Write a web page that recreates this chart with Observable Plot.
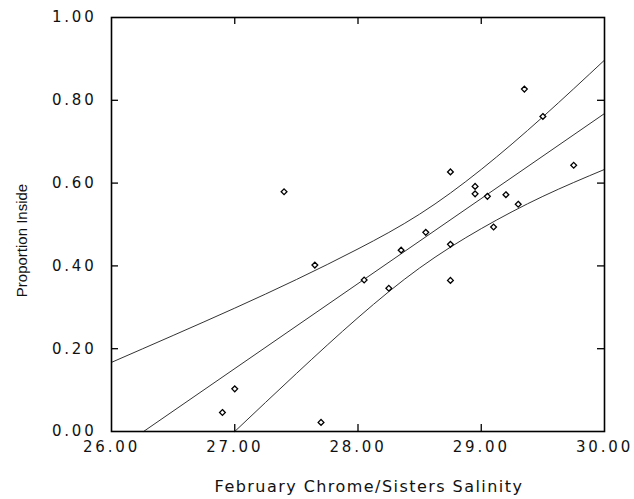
<!DOCTYPE html>
<html><head><meta charset="utf-8">
<script src="https://cdn.jsdelivr.net/npm/d3@7"></script>
<script src="https://cdn.jsdelivr.net/npm/@observablehq/plot@0.6"></script>
<style>
body{margin:0;background:#fff}
#chart svg{font-family:"DejaVu Sans",sans-serif;}
g[aria-label="x-axis tick label"] text, g[aria-label="y-axis tick label"] text{font-size:15px;letter-spacing:2.8px;fill:#111}
</style>
</head><body><div id="chart"></div>
<script>
// observed points
const salinity   = [26.90, 27.00, 27.40, 27.65, 27.70, 28.05, 28.25, 28.35, 28.55, 28.75, 28.75, 28.75, 28.95, 28.95, 29.05, 29.10, 29.20, 29.30, 29.35, 29.50, 29.75];
const proportion = [0.046, 0.103, 0.579, 0.402, 0.022, 0.366, 0.346, 0.438, 0.481, 0.627, 0.452, 0.365, 0.592, 0.574, 0.568, 0.494, 0.572, 0.549, 0.827, 0.761, 0.643];
// fitted line
const fitX = [26.26, 30.00];
const fitY = [0.000, 0.768];
// upper band
const upperX = [26.00, 26.50, 27.00, 27.50, 28.00, 28.50, 29.00, 29.50, 30.00];
const upperY = [0.167, 0.232, 0.298, 0.367, 0.441, 0.525, 0.633, 0.760, 0.897];
// lower band
const lowerX = [27.00, 27.50, 28.00, 28.50, 29.00, 29.50, 30.00];
const lowerY = [0.000, 0.140, 0.275, 0.395, 0.490, 0.568, 0.633];
// ticks and labels
const xTicks = [26, 27, 28, 29, 30];
const yTicks = [0, 0.2, 0.4, 0.6, 0.8, 1.0];
const xTitle = "February Chrome/Sisters Salinity";
const yTitle = "Proportion Inside";

const W = 634, H = 499, mL = 111, mR = 30, mT = 17, mB = 68;
const plotH = H - mT - mB, plotW = W - mL - mR, tick = 7;

const pts = salinity.map((x, i) => ({x, y: proportion[i]}));
const fit = fitX.map((x, i) => ({x, y: fitY[i]}));
const up = upperX.map((x, i) => ({x, y: upperY[i]}));
const lo = lowerX.map((x, i) => ({x, y: lowerY[i]}));
const innerX = xTicks.slice(1, -1), innerY = yTicks.slice(1, -1);

const chart = Plot.plot({
  width: W, height: H,
  marginLeft: mL, marginRight: mR, marginTop: mT, marginBottom: mB,
  x: {domain: [26, 30], axis: null},
  y: {domain: [0, 1], axis: null},
  style: {background: "#fff", overflow: "visible"},
  marks: [
    Plot.line(fit, {x: "x", y: "y", stroke: "#333", strokeWidth: 1}),
    Plot.line(up, {x: "x", y: "y", curve: "natural", stroke: "#333", strokeWidth: 1}),
    Plot.line(lo, {x: "x", y: "y", curve: "natural", stroke: "#333", strokeWidth: 1}),
    Plot.dot(pts, {x: "x", y: "y", symbol: "diamond2", r: 2.6, stroke: "#000", fill: "#fff", strokeWidth: 1.3}),
    Plot.tickX(innerX, {x: d => d, insetTop: plotH - tick, stroke: "#000", strokeWidth: 1.3}),
    Plot.tickX(innerX, {x: d => d, insetBottom: plotH - tick, stroke: "#000", strokeWidth: 1.3}),
    Plot.tickY(innerY, {y: d => d, insetRight: plotW - tick, stroke: "#000", strokeWidth: 1.3}),
    Plot.tickY(innerY, {y: d => d, insetLeft: plotW - tick, stroke: "#000", strokeWidth: 1.3}),
    Plot.frame({stroke: "#000", strokeWidth: 1.6}),
    Plot.axisX({ticks: xTicks, tickSize: 0, tickPadding: 10, tickFormat: d3.format(".2f"), label: null}),
    Plot.axisY({ticks: yTicks, tickSize: 0, tickPadding: 15, tickFormat: d3.format(".2f"), label: null}),
    Plot.text([xTitle], {text: d => d, frameAnchor: "bottom", dy: 60, dx: 11, fontSize: 16, fill: "#111",
      fontFamily: "DejaVu Sans"}),
    Plot.text([yTitle], {text: d => d, frameAnchor: "left", textAnchor: "middle", rotate: -90, dx: -89, dy: 16,
      fontSize: 15, fill: "#111", fontFamily: "Liberation Sans"})
  ]
});
document.getElementById("chart").appendChild(chart);
// letter spacing for the x title
d3.select(chart).selectAll("text").filter(function(){ return this.textContent === xTitle; }).style("letter-spacing", "1.45px");
</script>
</body></html>
